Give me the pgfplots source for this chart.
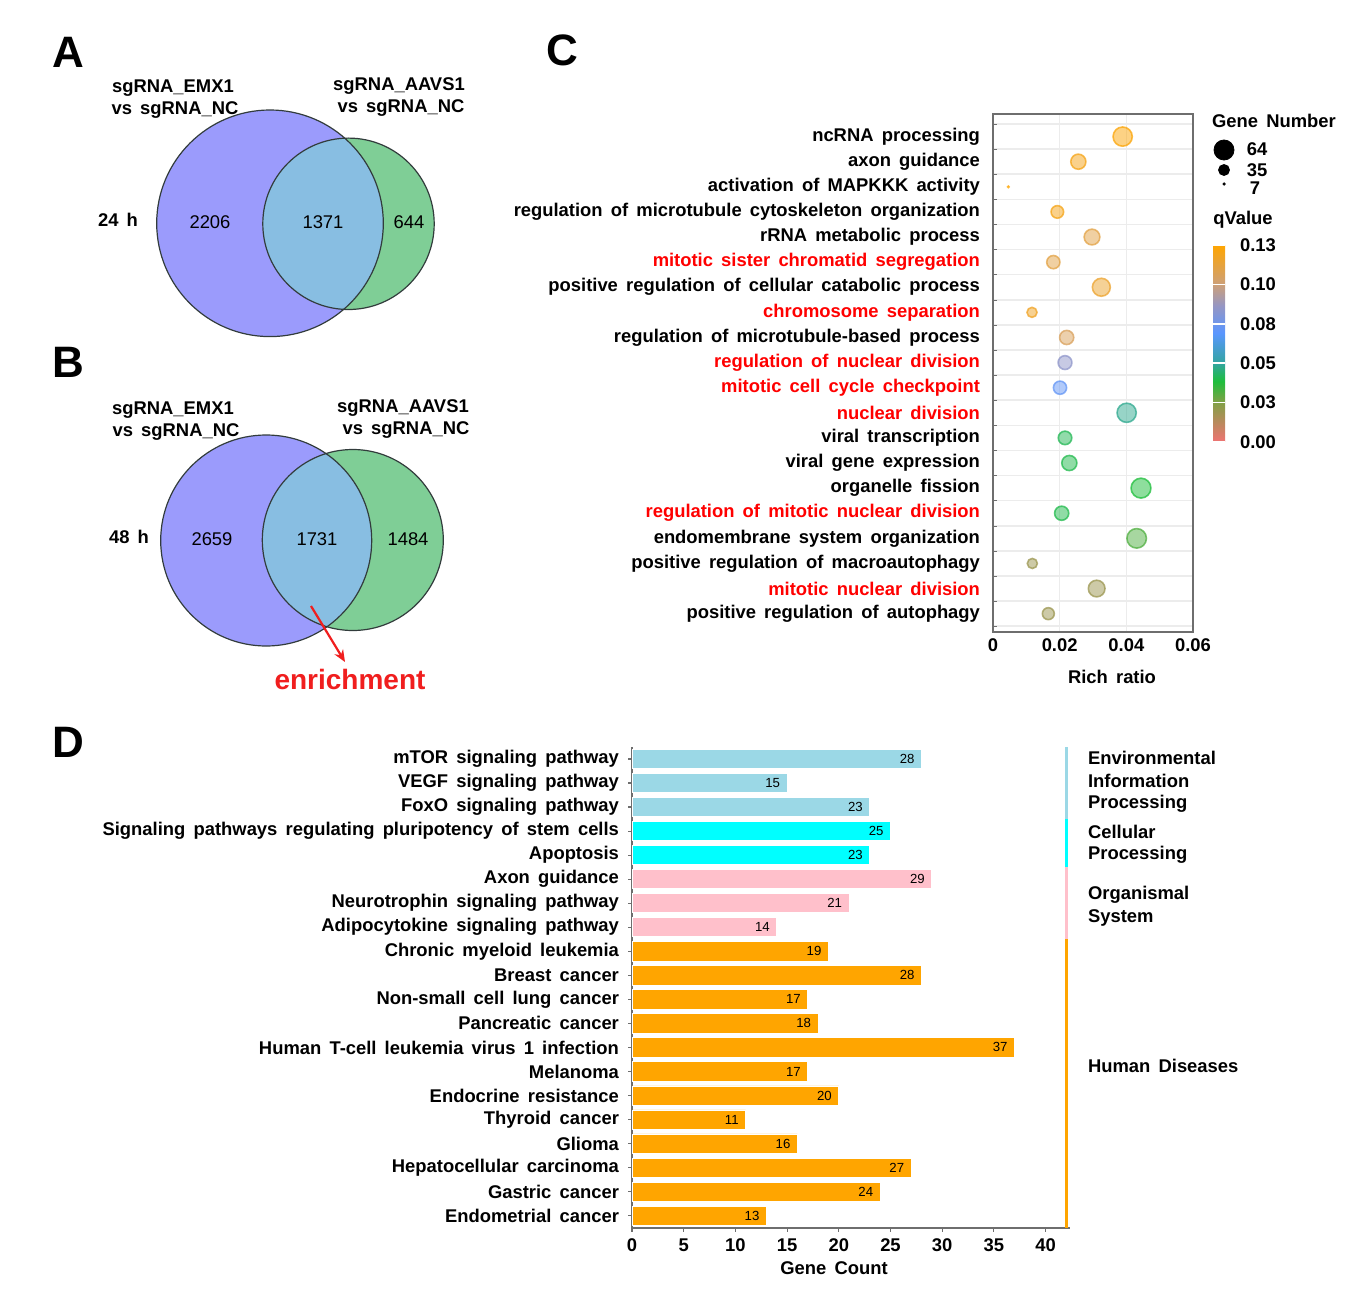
\documentclass[border=0pt]{standalone}
\usepackage{fontspec}
\setmainfont{Liberation Sans}[WordSpace=1.6]
\usepackage{pgfplots}
\usepackage{pgfplotstable}
\pgfplotsset{compat=1.18}
\usetikzlibrary{arrows.meta}

\newcommand\lab{\fontsize{9.2}{10}\selectfont\bfseries}
\newcommand\num{\fontsize{9.2}{10}\selectfont}
\newcommand\val{\fontsize{6.6}{7}\selectfont}

\definecolor{vpurple}{RGB}{155,155,252}
\definecolor{vgreen}{RGB}{127,206,150}
\definecolor{vblue}{RGB}{136,190,226}
\definecolor{vline}{RGB}{50,60,60}
\definecolor{blight}{RGB}{155,216,230}
\definecolor{bcyan}{RGB}{0,255,255}
\definecolor{bpink}{RGB}{255,192,203}
\definecolor{borange}{RGB}{255,165,0}
\definecolor{enr}{RGB}{240,30,30}
\definecolor{frame}{RGB}{110,110,110}

% GO terms: row, rich ratio, qValue, gene number
\pgfplotstableread{
y x q n
0 0.0389 0.128 64
1 0.0256 0.125 51
2 0.0046 0.130 8
3 0.0193 0.125 43
4 0.0297 0.115 53
5 0.0181 0.115 45
6 0.0325 0.120 60
7 0.0117 0.122 35
8 0.0221 0.110 48
9 0.0216 0.088 47
10 0.0201 0.075 45
11 0.0401 0.050 64
12 0.0216 0.043 46
13 0.0229 0.042 51
14 0.0444 0.040 66
15 0.0206 0.042 48
16 0.0431 0.033 65
17 0.0118 0.020 35
18 0.0311 0.020 56
19 0.0166 0.020 41
}\Cdata

\begin{document}
\begin{tikzpicture}
\useasboundingbox (0,0) rectangle (679pt,647pt);

% overlay axis in pixel units: Venn diagrams, panel letters, free text
\begin{axis}[at={(0,0)}, anchor=south west, scale only axis,
  width=679pt, height=647pt, xmin=0, xmax=1358, ymin=0, ymax=1294,
  y dir=reverse, hide axis, clip=false]
  % A
  \fill[vpurple] (axis cs:270,223.3) circle[radius=56.65pt];
  \fill[vgreen] (axis cs:348.5,223.8) circle[radius=42.85pt];
  \begin{scope}
    \clip (axis cs:270,223.3) circle[radius=56.65pt];
    \fill[vblue] (axis cs:348.5,223.8) circle[radius=42.85pt];
  \end{scope}
  \draw[vline, line width=0.6pt] (axis cs:270,223.3) circle[radius=56.65pt];
  \draw[vline, line width=0.6pt] (axis cs:348.5,223.8) circle[radius=42.85pt];
  % B
  \fill[vpurple] (axis cs:266.2,540.5) circle[radius=52.75pt];
  \fill[vgreen] (axis cs:352.8,540) circle[radius=45.25pt];
  \begin{scope}
    \clip (axis cs:266.2,540.5) circle[radius=52.75pt];
    \fill[vblue] (axis cs:352.8,540) circle[radius=45.25pt];
  \end{scope}
  \draw[vline, line width=0.6pt] (axis cs:266.2,540.5) circle[radius=52.75pt];
  \draw[vline, line width=0.6pt] (axis cs:352.8,540) circle[radius=45.25pt];

  \node[font=\fontsize{22}{24}\selectfont\bfseries] at (axis cs:68,52) {A};
  \node[font=\fontsize{22}{24}\selectfont\bfseries] at (axis cs:68,362) {B};
  \node[font=\fontsize{22}{24}\selectfont\bfseries] at (axis cs:562,50) {C};
  \node[font=\fontsize{22}{24}\selectfont\bfseries] at (axis cs:68,742) {D};

  \node[font=\lab] at (axis cs:173,88) {sgRNA\_EMX1};
  \node[font=\lab] at (axis cs:175,110) {vs sgRNA\_NC};
  \node[font=\lab] at (axis cs:399,86) {sgRNA\_AAVS1};
  \node[font=\lab] at (axis cs:401,108) {vs sgRNA\_NC};
  \node[font=\lab] at (axis cs:118,220) {24 h};
  \node[font=\num] at (axis cs:210,222) {2206};
  \node[font=\num] at (axis cs:323,222) {1371};
  \node[font=\num] at (axis cs:409,222) {644};

  \node[font=\lab] at (axis cs:173,410) {sgRNA\_EMX1};
  \node[font=\lab] at (axis cs:176,432) {vs sgRNA\_NC};
  \node[font=\lab] at (axis cs:403,408) {sgRNA\_AAVS1};
  \node[font=\lab] at (axis cs:406,430) {vs sgRNA\_NC};
  \node[font=\lab] at (axis cs:129,537) {48 h};
  \node[font=\num] at (axis cs:212,539) {2659};
  \node[font=\num] at (axis cs:317,539) {1731};
  \node[font=\num] at (axis cs:408,539) {1484};
  \draw[enr, line width=1.1pt, -{Stealth[length=6pt,width=5pt]}]
    (axis cs:311,606) -- (axis cs:345,662);
  \node[font=\fontsize{14}{16}\selectfont\bfseries, text=enr] at (axis cs:350,679) {enrichment};

  % C legend
  \node[font=\lab] at (axis cs:1274,121) {Gene Number};
  \addplot[only marks, mark=*, mark size=5pt, black] coordinates {(1224,150)};
  \addplot[only marks, mark=*, mark size=2.75pt, black] coordinates {(1224,170)};
  \addplot[only marks, mark=*, mark size=0.6pt, black] coordinates {(1224,184)};
  \node[font=\lab] at (axis cs:1257,149) {64};
  \node[font=\lab] at (axis cs:1257,170) {35};
  \node[font=\lab] at (axis cs:1255,188) {7};
  \node[font=\lab] at (axis cs:1243,220) {qValue};
  \node[font=\lab] at (axis cs:1112,677) {Rich ratio};

  % D text
  \node[font=\lab] at (axis cs:834,1268) {Gene Count};
  \node[font=\lab, anchor=west] at (axis cs:1081,758) {Environmental};
  \node[font=\lab, anchor=west] at (axis cs:1081,781) {Information};
  \node[font=\lab, anchor=west] at (axis cs:1081,804) {Processing};
  \node[font=\lab, anchor=west] at (axis cs:1081,832) {Cellular};
  \node[font=\lab, anchor=west] at (axis cs:1081,855) {Processing};
  \node[font=\lab, anchor=west] at (axis cs:1081,895) {Organismal};
  \node[font=\lab, anchor=west] at (axis cs:1081,918) {System};
  \node[font=\lab, anchor=west] at (axis cs:1081,1066) {Human Diseases};
\end{axis}

% C: GO bubble chart
\begin{axis}[at={(496.5pt,331pt)}, anchor=south west, scale only axis,
  width=100pt, height=259pt,
  xmin=0, xmax=0.06, ymin=-0.9, ymax=19.73, y dir=reverse,
  axis line style={draw=frame, line width=0.9pt},
  xtick={0,0.02,0.04,0.06}, xticklabels={0,0.02,0.04,0.06},
  scaled x ticks=false,
  xmajorgrids, major grid style={gray!15, line width=0.8pt},
  ytick={0,...,19},
  minor ytick={-0.5,0.5,...,19.5}, yminorgrids,
  minor grid style={gray!15, line width=0.8pt},
  tick pos=left, major tick length=0pt, minor tick length=2pt,
  minor tick style={frame},
  ticklabel style={font=\lab},
  yticklabel style={xshift=-3pt},
  yticklabels={
    ncRNA processing,
    axon guidance,
    activation of MAPKKK activity,
    regulation of microtubule cytoskeleton organization,
    rRNA metabolic process,
    \textcolor{red}{mitotic sister chromatid segregation},
    positive regulation of cellular catabolic process,
    \textcolor{red}{chromosome separation},
    regulation of microtubule-based process,
    \textcolor{red}{regulation of nuclear division},
    \textcolor{red}{mitotic cell cycle checkpoint},
    \textcolor{red}{nuclear division},
    viral transcription,
    viral gene expression,
    organelle fission,
    \textcolor{red}{regulation of mitotic nuclear division},
    endomembrane system organization,
    positive regulation of macroautophagy,
    \textcolor{red}{mitotic nuclear division},
    positive regulation of autophagy},
  colormap={qv}{rgb255(0cm)=(240,115,115); rgb255(2.6cm)=(130,160,70);
    rgb255(4cm)=(30,190,60); rgb255(5.2cm)=(50,165,160);
    rgb255(7.2cm)=(90,150,255); rgb255(9cm)=(150,150,195);
    rgb255(10.4cm)=(205,160,120); rgb255(13cm)=(255,165,0)},
  point meta min=0, point meta max=0.13,
  colorbar,
  colorbar style={at={(parent axis.north east)}, anchor=north west,
    xshift=1.5pt, yshift=-65.5pt, scale only axis, width=6pt, height=98.5pt,
    y dir=normal,
    ytick={0,0.026,0.052,0.078,0.104,0.13},
    yticklabels={0.00,0.03,0.05,0.08,0.10,0.13},
    yticklabel style={font=\lab, xshift=4pt},
    major tick length=0pt, axis line style={draw=none},
    ymajorgrids, major grid style={white, line width=0.8pt}, axis on top},
]
\addplot[scatter, only marks, mark=*, point meta=\thisrow{q},
  scatter/use mapped color={draw=mapped color, fill=mapped color,
    fill opacity=0.5, draw opacity=0.75},
  visualization depends on={0.3+0.079*(\thisrow{n}-7) \as \msz},
  scatter/@pre marker code/.append style={/tikz/mark size=\msz},
  mark options={line width=0.8pt}]
  table[x=x, y=y] {\Cdata};
\end{axis}

% D: KEGG bar chart
\begin{axis}[at={(316pt,33.15pt)}, anchor=south west, scale only axis,
  width=219.2pt, height=240.35pt,
  xmin=0, xmax=42.4, ymin=-0.5, ymax=19.5, y dir=reverse,
  axis x line*=bottom, axis y line*=left,
  axis line style={draw=frame, line width=0.8pt, -},
  xtick={0,5,...,40}, ytick={0,...,19},
  tick align=outside, major tick length=2pt,
  tick style={frame, line width=0.6pt},
  ticklabel style={font=\lab}, /pgf/number format/assume math mode=true,
  yticklabel style={xshift=-1pt},
  yticklabels={
    mTOR signaling pathway,
    VEGF signaling pathway,
    FoxO signaling pathway,
    Signaling pathways regulating pluripotency of stem cells,
    Apoptosis,
    Axon guidance,
    Neurotrophin signaling pathway,
    Adipocytokine signaling pathway,
    Chronic myeloid leukemia,
    Breast cancer,
    Non-small cell lung cancer,
    Pancreatic cancer,
    Human T-cell leukemia virus 1 infection,
    Melanoma,
    Endocrine resistance,
    Thyroid cancer,
    Glioma,
    Hepatocellular carcinoma,
    Gastric cancer,
    Endometrial cancer},
  bars/.style={xbar, bar shift=0pt, bar width=9.6pt, draw=white, line width=0.4pt,
    point meta=x, nodes near coords,
    every node near coord/.append style={anchor=east, font=\val, text=black,
      xshift=0pt}},
]
\addplot[bars, fill=blight] coordinates {(28,0) (15,1) (23,2)};
\addplot[bars, fill=bcyan] coordinates {(25,3) (23,4)};
\addplot[bars, fill=bpink] coordinates {(29,5) (21,6) (14,7)};
\addplot[bars, fill=borange] coordinates {(19,8) (28,9) (17,10) (18,11)
  (37,12) (17,13) (20,14) (11,15) (16,16) (27,17) (24,18) (13,19)};
\addplot[blight, line width=1.5pt] coordinates {(42,-0.5) (42,2.5)};
\addplot[bcyan, line width=1.5pt] coordinates {(42,2.5) (42,4.5)};
\addplot[bpink, line width=1.5pt] coordinates {(42,4.5) (42,7.5)};
\addplot[borange, line width=1.5pt] coordinates {(42,7.5) (42,19.5)};
\end{axis}
\end{tikzpicture}
\end{document}
